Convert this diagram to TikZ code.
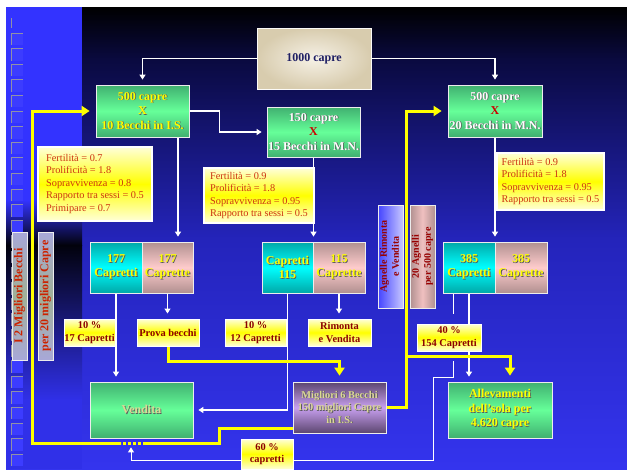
\documentclass[tikz,border=0pt]{standalone}
\usepackage{fontspec}
\setmainfont{Liberation Serif}
\usetikzlibrary{arrows.meta,calc}
\pgfdeclarelayer{bg}
\pgfdeclarelayer{lines}
\pgfsetlayers{bg,lines,main}
\definecolor{grnD}{HTML}{40B070}
\definecolor{grnL}{HTML}{66FF99}
\definecolor{cynD}{HTML}{00A8A8}
\definecolor{cynL}{HTML}{00FFFF}
\definecolor{pnkD}{HTML}{B09090}
\definecolor{pnkL}{HTML}{FFCCCC}
\definecolor{ylwL}{HTML}{FFFFD8}
\definecolor{ylw}{HTML}{FFFF00}
\definecolor{purD}{HTML}{5C4670}
\definecolor{purL}{HTML}{C8A0F0}
\definecolor{beigeL}{HTML}{F6F1E6}
\definecolor{beigeD}{HTML}{D8CCAE}
\definecolor{lavD}{HTML}{A8A8D8}
\definecolor{lavM}{HTML}{A0B098}
\definecolor{agnD}{HTML}{4444FF}
\definecolor{agnL}{HTML}{C8C8FF}
\definecolor{txtY}{HTML}{FFFF00}
\definecolor{khaki}{HTML}{DCD896}
\definecolor{navyT}{HTML}{1E1E64}
\definecolor{infoR}{HTML}{CC3311}
\definecolor{lblR}{HTML}{8B0000}
\definecolor{vertR}{HTML}{CC2200}
\definecolor{xred}{HTML}{CC0000}
\definecolor{yelo}{HTML}{FFFF00}
\definecolor{stripB}{HTML}{3333FF}
\definecolor{sqF}{HTML}{3C3CFF}
\definecolor{sqE}{HTML}{9090A8}
\definecolor{bgA}{HTML}{0A0A40}
\definecolor{bgB}{HTML}{2424BB}
\definecolor{bgC}{HTML}{3434EE}
\definecolor{bgS}{HTML}{3030E8}
\definecolor{bgK}{HTML}{02020C}
\newcommand{\shd}[2]{\rlap{\kern0.8pt\raisebox{-0.8pt}{\textcolor{black!65}{#2}}}\textcolor{#1}{#2}}
\begin{document}
\begin{tikzpicture}[x=1pt,y=-1pt,
  bx/.style={draw=white!85!gray, line width=0.8pt, inner sep=0pt, align=center},
  grn/.style={bx, top color=grnD, bottom color=grnD, middle color=grnL, font=\bfseries\fontsize{12}{14.5}\selectfont},
  cyn/.style={bx, top color=cynD, bottom color=cynD, middle color=cynL, font=\bfseries\fontsize{12}{14}\selectfont},
  pnk/.style={bx, top color=pnkD, bottom color=pnkD, middle color=pnkL, font=\bfseries\fontsize{12}{14}\selectfont},
  info/.style={bx, draw=white, line width=1.2pt, top color=ylwL, bottom color=ylwL, middle color=ylw, text=infoR, font=\fontsize{10.3}{12.5}\selectfont, align=left},
  lbl/.style={bx, draw=white, line width=1pt, top color=ylwL, bottom color=ylwL, middle color=ylw, text=lblR, font=\bfseries\fontsize{10.4}{12.7}\selectfont},
  pur/.style={bx, top color=purD, bottom color=purD, middle color=purL, font=\bfseries\fontsize{10.4}{12.5}\selectfont},
  vlab/.style={bx, text=vertR},
  lav/.style={vlab, top color=lavD, bottom color=lavD, middle color=lavM, minimum width=15pt, minimum height=128pt, font=\bfseries\fontsize{12}{14}\selectfont},
  wline/.style={draw=white, line width=1.6pt},
  warr/.style={wline, -{Triangle[width=6pt,length=5pt]}, shorten >=5pt},
  wthin/.style={draw=white, line width=1pt},
  yline/.style={draw=yelo, line width=3pt},
  yarr/.style={yline, -{Triangle[width=10pt,length=8pt]}, shorten >=6pt}
]
\useasboundingbox (0,0) rectangle (627,471);

\begin{pgfonlayer}{bg}
  \fill[white] (0,0) rectangle (627,471);
  % main background
  \shade[top color=black, bottom color=bgA] (6,7) rectangle (627,60);
  \shade[top color=bgA, bottom color=bgB] (6,60) rectangle (627,240);
  \shade[top color=bgB, bottom color=bgC] (6,240) rectangle (627,469);
  % left strip
  \fill[stripB] (6,7) rectangle (82,200);
  \shade[top color=stripB, bottom color=bgK] (6,200) rectangle (82,245);
  \shade[top color=bgK, bottom color=bgS] (6,245) rectangle (82,400);
  \fill[bgS] (6,400) rectangle (82,469);
  % decorative squares
  \draw[sqE, line width=0.8pt] (11,18) -- (11,28);
  \foreach \i in {0,...,27} {
    \pgfmathsetmacro{\yy}{33+15.6*\i}
    \fill[sqF] (11,\yy) rectangle (23,\yy+12);
    \draw[sqE, line width=0.8pt] (11,\yy+12) -- (11,\yy) -- (23,\yy);
  }
\end{pgfonlayer}

% nodes
\node[bx, draw=white!90!beigeD, inner color=beigeL, outer color=beigeD, minimum width=114pt, minimum height=61pt, text=navyT, font=\bfseries\fontsize{12}{14}\selectfont] (c1000) at (314,58.5) {1000 capre};

\node[grn, minimum width=93pt, minimum height=52pt] (b500is) at (142.5,111)
  {\shd{txtY}{500 capre}\\\shd{txtY}{X}\\\shd{txtY}{10 Becchi in I.S.}};
\node[grn, minimum width=93pt, minimum height=50pt] (b150) at (313.5,132)
  {\shd{white}{150 capre}\\\textcolor{xred}{X}\\\shd{white}{15 Becchi in M.N.}};
\node[grn, minimum width=94pt, minimum height=52pt] (b500mn) at (495,111)
  {\shd{white}{500 capre}\\\textcolor{xred}{X}\\\shd{white}{20 Becchi in M.N.}};

\node[info, minimum width=114pt, minimum height=74pt] (info1) at (95,184)
  {Fertilità = 0.7\\Prolificità = 1.8\\Sopravvivenza = 0.8\\Rapporto tra sessi = 0.5\\Primipare = 0.7};
\node[info, minimum width=110pt, minimum height=55pt] (info2) at (259,195.5)
  {Fertilità = 0.9\\Prolificità = 1.8\\Sopravvivenza = 0.95\\Rapporto tra sessi = 0.5};
\node[info, minimum width=107pt, minimum height=57pt] (info3) at (550.5,181.5)
  {Fertilità = 0.9\\Prolificità = 1.8\\Sopravvivenza = 0.95\\Rapporto tra sessi = 0.5};

\node[cyn, minimum width=52pt, minimum height=51pt] (cap177) at (116,267.5) {\shd{txtY}{177}\\\shd{txtY}{Capretti}};
\node[pnk, minimum width=51pt, minimum height=51pt] (capt177) at (167.5,267.5) {\shd{txtY}{177}\\\shd{txtY}{Caprette}};
\node[cyn, minimum width=51pt, minimum height=51pt] (cap115) at (287.5,267.5) {\shd{txtY}{Capretti}\\\shd{txtY}{115}};
\node[pnk, minimum width=52pt, minimum height=51pt] (capt115) at (339,267.5) {\shd{txtY}{115}\\\shd{txtY}{Caprette}};
\node[cyn, minimum width=52pt, minimum height=51pt] (cap385) at (469,267.5) {\shd{txtY}{385}\\\shd{txtY}{Capretti}};
\node[pnk, minimum width=52pt, minimum height=51pt] (capt385) at (521,267.5) {\shd{txtY}{385}\\\shd{txtY}{Caprette}};

\node[vlab, left color=agnD, right color=agnL, minimum width=25pt, minimum height=103pt, text=lblR!90!red, font=\bfseries\fontsize{10}{12}\selectfont] (agnelle) at (390.5,256.5)
  {\rotatebox{90}{\begin{tabular}{@{}c@{}}Agnelle Rimonta\\e Vendita\end{tabular}}};
\node[vlab, left color=pnkD, right color=pnkD, middle color=pnkL!80!pnkD, minimum width=25pt, minimum height=103pt, text=lblR!90!red, font=\bfseries\fontsize{10}{12}\selectfont] (agnelli) at (422.5,256.5)
  {\rotatebox{90}{\begin{tabular}{@{}c@{}}20 Agnelli\\per 500 capre\end{tabular}}};
\node[lav] (vbec) at (19.5,296) {\rotatebox{90}{I 2 Migliori Becchi}};
\node[lav] (vcap) at (45.5,296) {\rotatebox{90}{per 20 migliori Capre}};

\node[lbl, minimum width=51pt, minimum height=27pt] (l17) at (89.5,332.5) {10 \%\\17 Capretti};
\node[lbl, minimum width=62pt, minimum height=27pt] (prova) at (168,332.5) {Prova becchi};
\node[lbl, minimum width=61pt, minimum height=27pt] (l12) at (255.5,332.5) {10 \%\\12 Capretti};
\node[lbl, minimum width=63pt, minimum height=27pt] (rimonta) at (339.5,332.5) {Rimonta\\e Vendita};
\node[lbl, minimum width=64pt, minimum height=27pt] (l40) at (449,337.5) {40 \%\\154 Capretti};
\node[lbl, minimum width=52pt, minimum height=30pt] (l60) at (267,454) {60 \%\\capretti};

\node[grn, minimum width=103pt, minimum height=56pt] (vendita) at (141.5,410) {\shd{khaki}{Vendita}};
\node[pur, minimum width=93pt, minimum height=51pt] (migl) at (339.5,407.5)
  {\shd{khaki}{Migliori 6 Becchi}\\\shd{khaki}{150 migliori Capre}\\\shd{khaki}{in I.S.}};
\node[grn, minimum width=104pt, minimum height=56pt] (allev) at (500,410)
  {\shd{txtY}{Allevamenti}\\\shd{txtY}{dell’sola per}\\\shd{txtY}{4.620 capre}};

\coordinate (wa) at (453,314);
\coordinate (wb) at (453,361);
\coordinate (ya) at (146,443);
\coordinate (yb) at (121,443);
\coordinate (yj) at (407,356);

\begin{pgfonlayer}{lines}
  % white connectors
  \draw[warr] (c1000.west) -| (b500is.north);
  \draw[warr] (c1000.east) -| (b500mn.north);
  \draw[warr] (b500is.east) -- ++(30,0) |- (b150.west);
  \draw[warr] ($(b500is.south)+(35.5,0)$) -- ($(capt177.north)+(10.5,0)$);
  \draw[warr] (b150.south) -- (b150.south |- cap115.north);
  \draw[warr] (b500mn.south) -- (b500mn.south |- cap385.north);
  \draw[warr] (cap177.south) -- (cap177.south |- vendita.north);
  \draw[warr] (capt177.south) -- (capt177.south |- prova.north);
  \draw[warr] (cap115.south) |- (vendita.east);
  \draw[warr] (capt115.south) -- (capt115.south |- rimonta.north);
  \draw[warr] (cap385.south) -- (cap385.south |- allev.north);
  \draw[wthin] ($(cap385.south)+(-16,0)$) -- (wa);
  \draw[wthin, -{Triangle[width=6pt,length=5pt]}, shorten >=9pt] (wb) -- (453,377) -- (433,377) -- (433,460) -| ($(vendita.south)+(-10.5,0)$);
  % yellow connectors
  \draw[yline] ($(migl.west)+(0,20.5)$) -- ++(-73,0) |- (ya);
  \draw[yline, dash pattern=on 3pt off 2pt] (ya) -- (yb);
  \draw[yarr] (yb) -| (32,111) -- (b500is.west);
  \draw[yarr] (prova.south) -- ++(0,15) -| (migl.north);
  \draw[yarr] (migl.east) -| ($(b500mn.west)+(-41,0)$) -- (b500mn.west);
  \draw[yarr] (yj) -| ($(allev.north)+(10,0)$);
\end{pgfonlayer}
\end{tikzpicture}
\end{document}
